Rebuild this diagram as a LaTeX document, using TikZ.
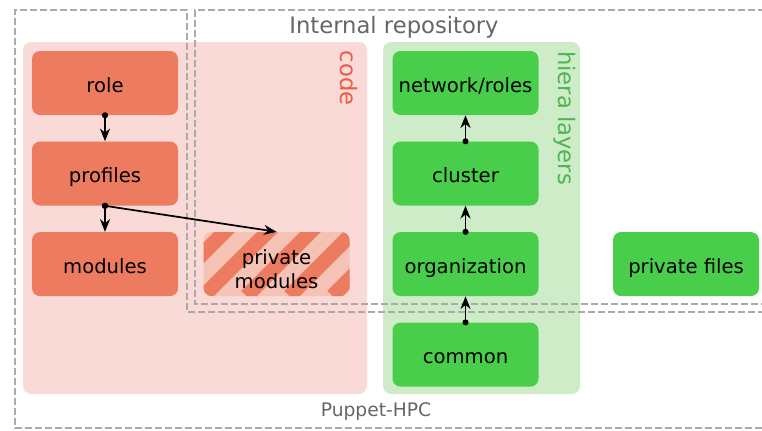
\documentclass[tikz,border=0pt]{standalone}
\usepackage{fontspec}
\setmainfont{DejaVu Sans}
\usepackage{tikz}
\usetikzlibrary{arrows.meta,positioning}
\pgfdeclarelayer{background layer}
\pgfsetlayers{background layer,main}
\definecolor{salmon}{RGB}{236,123,96}
\definecolor{salmonlight}{RGB}{245,195,181}
\definecolor{codebg}{RGB}{249,218,215}
\definecolor{codered}{RGB}{232,92,74}
\definecolor{hieragreen}{RGB}{72,206,75}
\definecolor{hierabg}{RGB}{206,236,200}
\definecolor{hieralabel}{RGB}{80,180,80}
\definecolor{dashgrey}{RGB}{170,170,170}
\definecolor{labelgrey}{RGB}{102,102,102}

\begin{document}
\begin{tikzpicture}[x=0.75pt,y=-0.75pt]
\tikzstyle{codebox}=[fill=salmon,rounded corners=6pt,minimum width=109.5pt,minimum height=48pt,inner sep=0pt,text height=13.5pt,text depth=0pt,font=\fontsize{14.7}{18}\selectfont]
\tikzstyle{hierabox}=[codebox,fill=hieragreen]
\tikzstyle{privbox}=[codebox,fill=salmonlight,align=center,text height=36pt,text depth=0pt,path picture={
  \foreach \k in {-3,...,4}
    \draw [salmon,line width=11pt] ([xshift=\k*32.25pt]path picture bounding box.south west) -- ++(60pt,60pt);}]
\tikzstyle{arrow}=[line width=1.3pt,{Circle[length=4.5pt]}-{Stealth[length=9.5pt,width=7.5pt,inset=3pt]},shorten <=-2.25pt]
\tikzstyle{repo}=[dashgrey,line width=1.5pt,dash pattern=on 5.25pt off 2.25pt]
\tikzstyle{biglabel}=[font=\fontsize{17}{20}\selectfont]
\clip (0,0) rectangle (762,430);
% code modules
\node [codebox] at (105,83) (role) {role};
\node [codebox,below=19.5pt of role] (profiles) {profiles};
\node [codebox,below=19.5pt of profiles] (modules) {modules};
\node [privbox,right=18.75pt of modules] (private) {private\\modules};
% hiera
\node [hierabox] at (465.5,83) (network) {network/roles};
\node [hierabox,below=19.5pt of network] (cluster) {cluster};
\node [hierabox,below=19.5pt of cluster] (organization) {organization};
\node [hierabox,below=19.5pt of organization] (common) {common};
\node [hierabox,right=55.5pt of organization] (privfiles) {private files};
% labels
\node [biglabel,text=codered,rotate=-90] at (349,78) (codelbl) {code};
\node [biglabel,text=hieralabel,rotate=-90] at (565,118) (hieralbl) {hiera layers};
\node [biglabel,text=labelgrey] at (394,27) (repolbl) {Internal repository};
\node [text=labelgrey,font=\fontsize{14}{17}\selectfont] at (376,411) (hpclbl) {Puppet-HPC};
% arrows
\draw [arrow] (role) -- (profiles);
\draw [arrow] (profiles.south) -- (modules.north);
\draw [arrow] (profiles.south) -- (private.north);
\draw [arrow] (organization.north) -- (cluster.south);
\draw [arrow] (cluster.north) -- (network.south);
\draw [arrow] (common.north) -- (organization.south);
\begin{pgfonlayer}{background layer}
\fill [codebg,rounded corners=6pt] (23,42) rectangle (367,394);
\fill [hierabg,rounded corners=6pt] (383,42) rectangle (580,394);
\draw [repo] (775,312) -- (187,312) -- (187,10) -- (15,10) -- (15,428) -- (775,428);
\draw [repo] (775,10) -- (195,10) -- (195,304) -- (775,304);
\end{pgfonlayer}
\end{tikzpicture}
\end{document}
